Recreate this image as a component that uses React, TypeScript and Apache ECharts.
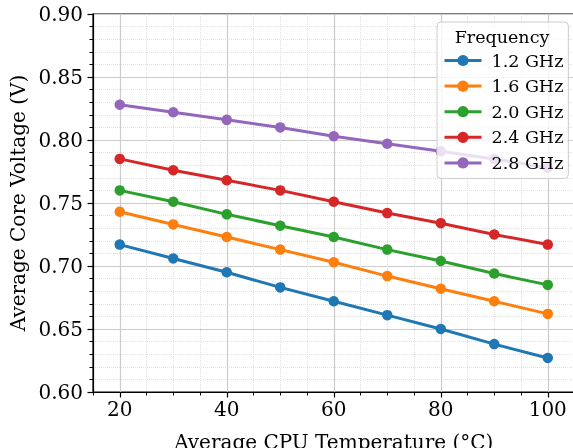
import React, { useEffect, useRef } from "react";
import * as echarts from "echarts";

const temperatures = [20, 30, 40, 50, 60, 70, 80, 90, 100];
const frequencies = ["1.2 GHz", "1.6 GHz", "2.0 GHz", "2.4 GHz", "2.8 GHz"];
const v12 = [0.717, 0.706, 0.695, 0.683, 0.672, 0.661, 0.650, 0.638, 0.627];
const v16 = [0.743, 0.733, 0.723, 0.713, 0.703, 0.692, 0.682, 0.672, 0.662];
const v20 = [0.760, 0.751, 0.741, 0.732, 0.723, 0.713, 0.704, 0.694, 0.685];
const v24 = [0.785, 0.776, 0.768, 0.760, 0.751, 0.742, 0.734, 0.725, 0.717];
const v28 = [0.828, 0.822, 0.816, 0.810, 0.803, 0.797, 0.791, 0.785, 0.778];
const xMajorTicks = [20, 40, 60, 80, 100];
const colors = ["#1f77b4", "#ff7f0e", "#2ca02c", "#d62728", "#9467bd"];

const FONT = "DejaVu Serif";

export default function App() {
  const ref = useRef<HTMLDivElement>(null);
  useEffect(() => {
    if (!ref.current) return;
    const chart = echarts.init(ref.current, null, { renderer: "svg" });
    const all = [v12, v16, v20, v24, v28];
    const T = "rgba(0,0,0,0)";
    const xBase = {
      type: "value",
      min: 15,
      max: 105,
      interval: 5,
      position: "bottom",
      gridIndex: 0,
    };
    chart.setOption({
      animation: false,
      textStyle: { fontFamily: FONT },
      grid: {
        left: 93,
        top: 14,
        right: 5.5,
        bottom: 56,
        containLabel: false,
        outerBoundsMode: "none",
        show: true,
        borderColor: "#000",
        borderWidth: 1.2,
        backgroundColor: "transparent",
      },
      xAxis: [
        {
          ...xBase,
          axisLine: { show: true, lineStyle: { color: "#000", width: 1.2 } },
          axisTick: { show: true, length: 3.5, lineStyle: { color: "#000", width: 1 } },
          axisLabel: { show: false },
          splitLine: { show: true, lineStyle: { color: "#e0e0e0", type: "dotted", width: 1 } },
        },
        {
          ...xBase,
          axisLine: { show: false },
          axisTick: { show: false },
          axisLabel: { show: false },
          splitLine: { show: true, lineStyle: { color: [T, "#cccccc", T, T], width: 1.2 } },
        },
        {
          ...xBase,
          axisLine: { show: false },
          axisTick: {
            show: true,
            length: 5.5,
            customValues: xMajorTicks,
            lineStyle: { color: "#000", width: 1.2 },
          },
          axisLabel: {
            show: true,
            customValues: xMajorTicks,
            formatter: (v: number) => (v % 20 === 0 ? String(v) : ""),
            fontFamily: FONT,
            fontSize: 20,
            color: "#000",
            margin: 7,
          },
          splitLine: { show: false },
          name: "Average CPU Temperature (°C)",
          nameLocation: "middle",
          nameGap: 40,
          nameTextStyle: { fontFamily: FONT, fontSize: 20, color: "#000" },
        },
      ],
      yAxis: {
        type: "value",
        min: 0.6,
        max: 0.9,
        interval: 0.05,
        axisLine: { show: true, lineStyle: { color: "#000", width: 1.2 } },
        axisTick: { show: true, length: 5.5, lineStyle: { color: "#000", width: 1.2 } },
        minorTick: { show: true, splitNumber: 5, length: 3.5, lineStyle: { color: "#000", width: 1 } },
        axisLabel: {
          formatter: (v: number) => v.toFixed(2),
          fontFamily: FONT,
          fontSize: 20,
          color: "#000",
          margin: 10,
        },
        splitLine: { show: true, lineStyle: { color: "#cccccc", width: 1.2 } },
        minorSplitLine: { show: true, lineStyle: { color: "#e0e0e0", type: "dotted", width: 1 } },
        name: "Average Core Voltage (V)",
        nameLocation: "middle",
        nameGap: 61,
        nameTextStyle: { fontFamily: FONT, fontSize: 20, color: "#000" },
      },
      legend: {
        orient: "vertical",
        left: 437,
        top: 22,
        padding: [29.5, 5, 6.5, 6],
        itemWidth: 37,
        itemHeight: 14,
        itemGap: 7.6,
        backgroundColor: "rgba(255,255,255,0.8)",
        borderColor: "#cccccc",
        borderWidth: 1,
        borderRadius: 4,
        data: frequencies,
        lineStyle: { width: 3 },
        textStyle: {
          fontFamily: FONT,
          fontSize: 17.5,
          lineHeight: 17,
          color: "#000",
          padding: [0, 0, 0, 5],
        },
      },
      graphic: [
        {
          type: "text",
          x: 502,
          y: 37,
          z: 100,
          style: {
            text: "Frequency",
            fontFamily: FONT,
            fontSize: 17.5,
            fill: "#000",
            align: "center",
            verticalAlign: "middle",
          },
        },
      ],
      series: frequencies.map((name, k) => ({
        type: "line",
        name,
        xAxisIndex: 0,
        yAxisIndex: 0,
        data: temperatures.map((t, i) => [t, all[k][i]]),
        symbol: "circle",
        symbolSize: 10.5,
        lineStyle: { width: 3, color: colors[k] },
        itemStyle: { color: colors[k] },
      })),
    });
    return () => chart.dispose();
  }, []);
  return (
    <div
      ref={ref}
      style={{ position: "fixed", left: 0, top: 0, width: 580, height: 448 }}
    />
  );
}
